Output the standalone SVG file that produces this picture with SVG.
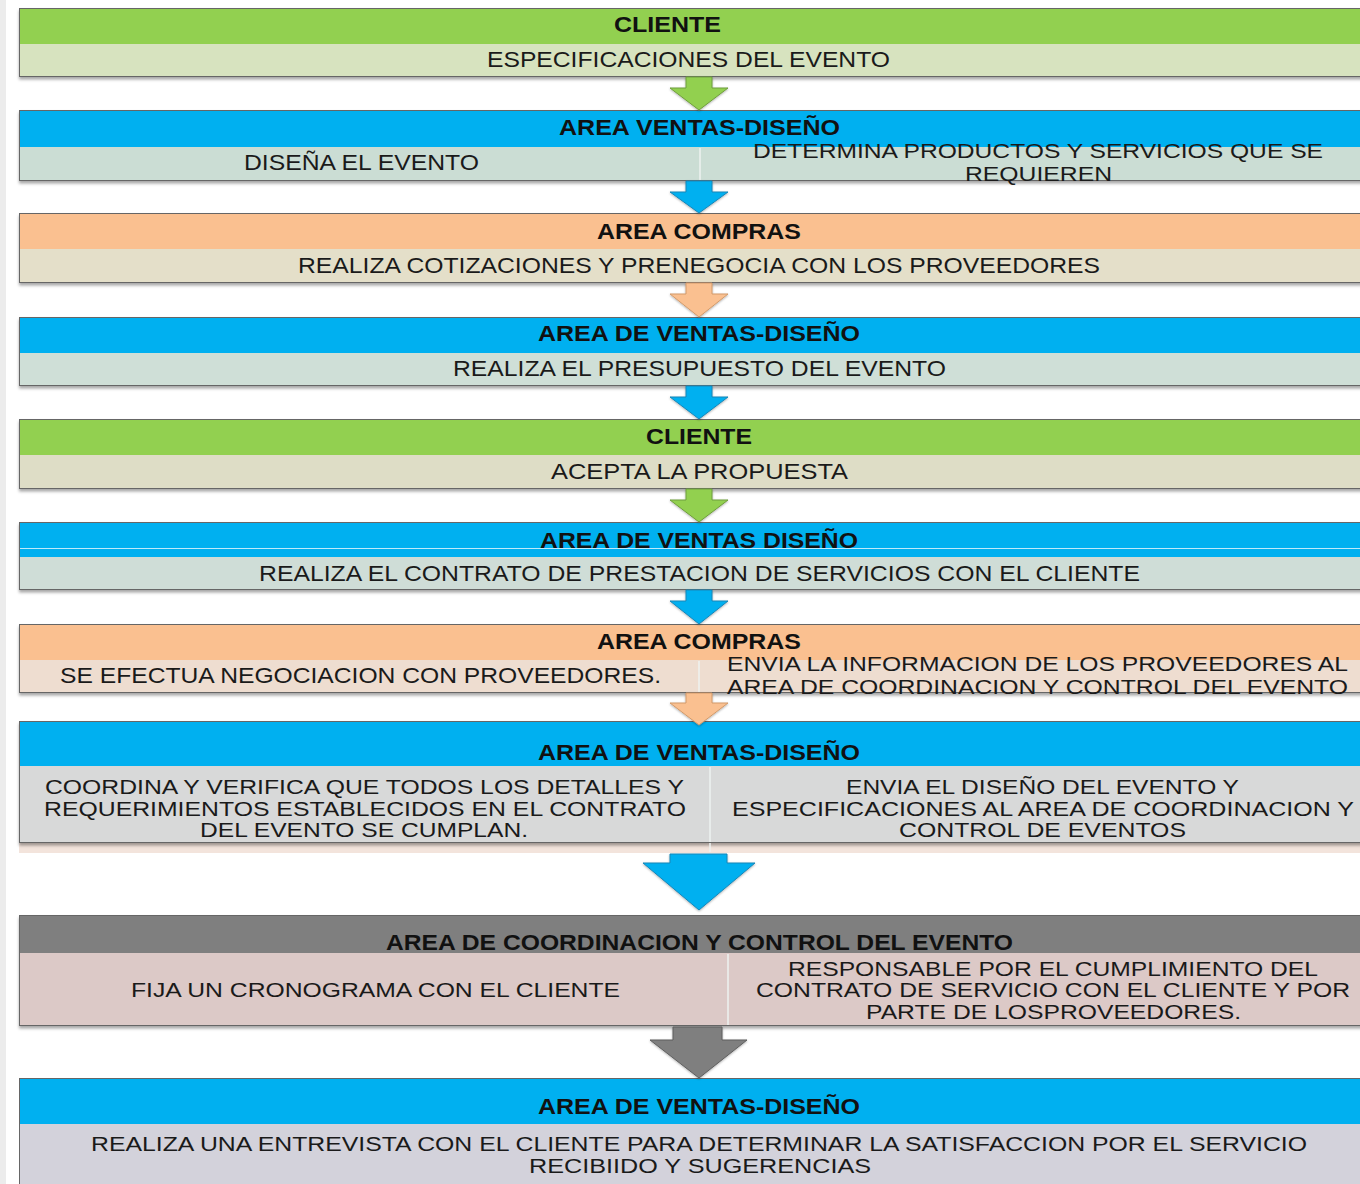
<svg xmlns="http://www.w3.org/2000/svg" width="1360" height="1184" viewBox="0 0 1360 1184">
<defs>
<filter id="sh" x="-5%" y="-20%" width="110%" height="160%">
<feDropShadow dx="0" dy="2.5" stdDeviation="1.5" flood-color="#000" flood-opacity="0.35"/>
</filter>
<filter id="ash" x="-20%" y="-20%" width="140%" height="140%">
<feDropShadow dx="0" dy="1" stdDeviation="1" flood-color="#000" flood-opacity="0.3"/>
</filter>
</defs>
<style>
.hd{font-family:"Liberation Sans",Arial,sans-serif;font-weight:bold;font-size:21.5px;fill:#111}
.tx{font-family:"Liberation Sans",Arial,sans-serif;font-size:22px;fill:#1a1a1a}
.t2{font-family:"Liberation Sans",Arial,sans-serif;font-size:20.5px;fill:#1a1a1a}
.frame{fill:none;stroke:#666;stroke-width:1}
.green{fill:#92D050}
.blue{fill:#00B0F0}
.peach{fill:#FAC090}
.gray{fill:#7F7F7F}
.split{stroke:#eef2f0;stroke-width:1.5}
.ag{fill:#92D050;stroke:#6f9e3c;stroke-width:1}
.ab{fill:#00B0F0;stroke:#1786b8;stroke-width:1}
.ap{fill:#FAC090;stroke:#d29a6a;stroke-width:1}
.ay{fill:#7F7F7F;stroke:#5f5f5f;stroke-width:1}
</style>
<rect x="0" y="0" width="1360" height="1184" fill="#ffffff"/>
<rect x="0" y="0" width="6" height="1184" fill="#ececec"/>

<g id="n1">
<g filter="url(#sh)"><rect x="19" y="8" width="1345" height="69" fill="#D7E3BF"/></g>
<rect class="green" x="19" y="8" width="1345" height="36"/>
<rect class="frame" x="19.5" y="8.5" width="1345" height="68"/>
<text class="hd" x="614" y="32" textLength="107" lengthAdjust="spacingAndGlyphs">CLIENTE</text>
<text class="tx" x="487" y="67" textLength="403" lengthAdjust="spacingAndGlyphs">ESPECIFICACIONES DEL EVENTO</text>
</g>

<g id="n2">
<g filter="url(#sh)"><rect x="19" y="110" width="1345" height="71" fill="#CBDDD4"/></g>
<rect class="blue" x="19" y="110" width="1345" height="37"/>
<line class="split" x1="700" y1="148" x2="700" y2="180"/>
<rect class="frame" x="19.5" y="110.5" width="1345" height="70"/>
<text class="hd" x="559" y="135" textLength="281" lengthAdjust="spacingAndGlyphs">AREA VENTAS-DISEÑO</text>
<text class="tx" x="244" y="170" textLength="235" lengthAdjust="spacingAndGlyphs">DISEÑA EL EVENTO</text>
<text class="t2" x="753" y="158" textLength="570" lengthAdjust="spacingAndGlyphs">DETERMINA PRODUCTOS Y SERVICIOS QUE SE</text>
<text class="t2" x="965" y="181" textLength="147" lengthAdjust="spacingAndGlyphs">REQUIEREN</text>
</g>

<g id="n3">
<g filter="url(#sh)"><rect x="19" y="213" width="1345" height="70" fill="#E4DFC9"/></g>
<rect class="peach" x="19" y="213" width="1345" height="36"/>
<rect class="frame" x="19.5" y="213.5" width="1345" height="69"/>
<text class="hd" x="597" y="239" textLength="204" lengthAdjust="spacingAndGlyphs">AREA COMPRAS</text>
<text class="tx" x="298" y="273" textLength="802" lengthAdjust="spacingAndGlyphs">REALIZA COTIZACIONES Y PRENEGOCIA CON LOS PROVEEDORES</text>
</g>

<g id="n4">
<g filter="url(#sh)"><rect x="19" y="317" width="1345" height="69" fill="#CFDFD7"/></g>
<rect class="blue" x="19" y="317" width="1345" height="36"/>
<rect class="frame" x="19.5" y="317.5" width="1345" height="68"/>
<text class="hd" x="538" y="341" textLength="322" lengthAdjust="spacingAndGlyphs">AREA DE VENTAS-DISEÑO</text>
<text class="tx" x="453" y="376" textLength="493" lengthAdjust="spacingAndGlyphs">REALIZA EL PRESUPUESTO DEL EVENTO</text>
</g>

<g id="n5">
<g filter="url(#sh)"><rect x="19" y="419" width="1345" height="70" fill="#DEDDC6"/></g>
<rect class="green" x="19" y="419" width="1345" height="36"/>
<rect class="frame" x="19.5" y="419.5" width="1345" height="69"/>
<text class="hd" x="646" y="444" textLength="106" lengthAdjust="spacingAndGlyphs">CLIENTE</text>
<text class="tx" x="551" y="479" textLength="297" lengthAdjust="spacingAndGlyphs">ACEPTA LA PROPUESTA</text>
</g>

<g id="n6">
<g filter="url(#sh)"><rect x="19" y="522" width="1345" height="68" fill="#CFDDD7"/></g>
<rect class="blue" x="19" y="522" width="1345" height="35"/>
<line x1="19" y1="548.5" x2="1360" y2="548.5" stroke="#bfe9fa" stroke-width="1"/>
<rect class="frame" x="19.5" y="522.5" width="1345" height="67"/>
<text class="hd" x="540" y="548" textLength="318" lengthAdjust="spacingAndGlyphs">AREA DE VENTAS DISEÑO</text>
<text class="tx" x="259" y="581" textLength="881" lengthAdjust="spacingAndGlyphs">REALIZA EL CONTRATO DE PRESTACION DE SERVICIOS CON EL CLIENTE</text>
</g>

<g id="n7">
<g filter="url(#sh)"><rect x="19" y="624" width="1345" height="69" fill="#EEDDD0"/></g>
<rect class="peach" x="19" y="624" width="1345" height="36"/>
<line class="split" x1="699" y1="661" x2="699" y2="692" stroke="#f7efe8"/>
<rect class="frame" x="19.5" y="624.5" width="1345" height="68"/>
<text class="hd" x="597" y="649" textLength="204" lengthAdjust="spacingAndGlyphs">AREA COMPRAS</text>
<text class="tx" x="60" y="683" textLength="601" lengthAdjust="spacingAndGlyphs">SE EFECTUA NEGOCIACION CON PROVEEDORES.</text>
<text class="t2" x="727" y="671" textLength="621" lengthAdjust="spacingAndGlyphs">ENVIA LA INFORMACION DE LOS PROVEEDORES AL</text>
<text class="t2" x="727" y="694" textLength="621" lengthAdjust="spacingAndGlyphs">AREA DE COORDINACION Y CONTROL DEL EVENTO</text>
</g>

<g id="n8">
<rect x="19" y="843" width="1345" height="10" fill="#F3E4DC"/>
<g filter="url(#sh)"><rect x="19" y="721" width="1345" height="122" fill="#D8D9D9"/></g>
<rect class="blue" x="19" y="721" width="1345" height="45"/>
<line class="split" x1="710" y1="767" x2="710" y2="852" stroke="#e9ecec"/>
<rect class="frame" x="19.5" y="721.5" width="1345" height="121"/>
<text class="hd" x="538" y="760" textLength="322" lengthAdjust="spacingAndGlyphs">AREA DE VENTAS-DISEÑO</text>
<text class="t2" x="45" y="794" textLength="639" lengthAdjust="spacingAndGlyphs">COORDINA Y VERIFICA QUE TODOS LOS DETALLES Y</text>
<text class="t2" x="44" y="816" textLength="642" lengthAdjust="spacingAndGlyphs">REQUERIMIENTOS ESTABLECIDOS EN EL CONTRATO</text>
<text class="t2" x="200" y="837" textLength="328" lengthAdjust="spacingAndGlyphs">DEL EVENTO SE CUMPLAN.</text>
<text class="t2" x="846" y="794" textLength="393" lengthAdjust="spacingAndGlyphs">ENVIA EL DISEÑO DEL EVENTO Y</text>
<text class="t2" x="732" y="816" textLength="622" lengthAdjust="spacingAndGlyphs">ESPECIFICACIONES AL  AREA DE COORDINACION Y</text>
<text class="t2" x="899" y="837" textLength="287" lengthAdjust="spacingAndGlyphs">CONTROL DE EVENTOS</text>
</g>

<g id="n9">
<g filter="url(#sh)"><rect x="19" y="915" width="1345" height="111" fill="#DCC9C7"/></g>
<rect class="gray" x="19" y="915" width="1345" height="38"/>
<line class="split" x1="728" y1="954" x2="728" y2="1025" stroke="#e9dcdb"/>
<rect class="frame" x="19.5" y="915.5" width="1345" height="110"/>
<text class="hd" x="386" y="950" textLength="627" lengthAdjust="spacingAndGlyphs">AREA DE COORDINACION Y CONTROL DEL EVENTO</text>
<text class="t2" x="131" y="997" textLength="489" lengthAdjust="spacingAndGlyphs">FIJA UN CRONOGRAMA CON EL CLIENTE</text>
<text class="t2" x="788" y="976" textLength="530" lengthAdjust="spacingAndGlyphs">RESPONSABLE POR EL CUMPLIMIENTO DEL</text>
<text class="t2" x="756" y="997" textLength="594" lengthAdjust="spacingAndGlyphs">CONTRATO DE SERVICIO CON EL CLIENTE Y POR</text>
<text class="t2" x="866" y="1019" textLength="375" lengthAdjust="spacingAndGlyphs">PARTE DE LOSPROVEEDORES.</text>
</g>

<g id="n10">
<rect x="19" y="1078" width="1345" height="110" fill="#D3D2DB"/>
<rect class="blue" x="19" y="1078" width="1345" height="46"/>
<rect class="frame" x="19.5" y="1078.5" width="1345" height="110"/>
<text class="hd" x="538" y="1114" textLength="322" lengthAdjust="spacingAndGlyphs">AREA DE VENTAS-DISEÑO</text>
<text class="t2" x="91" y="1151" textLength="1216" lengthAdjust="spacingAndGlyphs">REALIZA UNA ENTREVISTA CON EL CLIENTE PARA DETERMINAR LA SATISFACCION POR EL SERVICIO</text>
<text class="t2" x="529" y="1173" textLength="342" lengthAdjust="spacingAndGlyphs">RECIBIIDO Y  SUGERENCIAS</text>
</g>

<g id="connectors" filter="url(#ash)">
<polygon class="ag" points="686,77 712,77 712,88 728,88 699,110 670,88 686,88"/>
<polygon class="ab" points="686,181 712,181 712,192 728,192 699,213 670,192 686,192"/>
<polygon class="ap" points="686,283 712,283 712,294 728,294 699,317 670,294 686,294"/>
<polygon class="ab" points="686,386 712,386 712,397 728,397 699,419 670,397 686,397"/>
<polygon class="ag" points="686,489 712,489 712,500 728,500 699,522 670,500 686,500"/>
<polygon class="ab" points="686,590 712,590 712,601 728,601 699,624 670,601 686,601"/>
<polygon class="ap" points="686,693 712,693 712,703 728,703 699,725 670,703 686,703"/>
<polygon class="ab" points="670,854 727,854 727,863 755,863 699,910 643,863 670,863"/>
<polygon class="ay" points="673,1027 722,1027 722,1040 747,1040 699,1078 650,1040 673,1040"/>
</g>
</svg>
